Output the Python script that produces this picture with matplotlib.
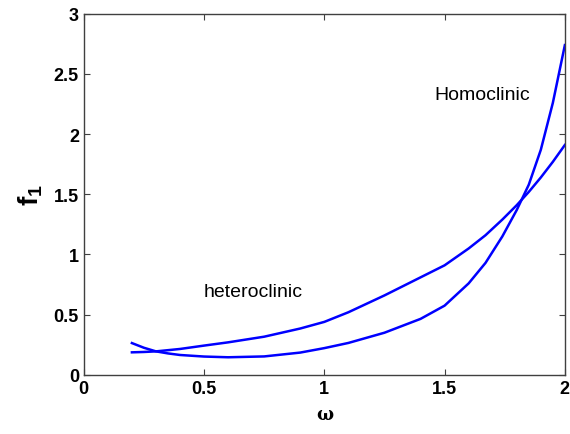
import numpy as np
import matplotlib
matplotlib.use('Agg')
import matplotlib.pyplot as plt

plt.rcParams['font.family'] = ['Liberation Sans', 'DejaVu Sans']
plt.rcParams['mathtext.fontset'] = 'custom'
plt.rcParams['mathtext.rm'] = 'Liberation Sans'
plt.rcParams['mathtext.bf'] = 'Liberation Sans:bold'

# omega values
omega = [0.2, 0.25, 0.3, 0.35, 0.4, 0.5, 0.6, 0.75, 0.9, 1.0, 1.1, 1.25,
         1.4, 1.5, 1.6, 1.67, 1.74, 1.8, 1.85, 1.9, 1.95, 2.0]
# slowly rising branch
f1_a = [0.187, 0.19, 0.195, 0.205, 0.215, 0.243, 0.27, 0.317, 0.385, 0.44,
        0.52, 0.66, 0.81, 0.91, 1.05, 1.16, 1.29, 1.41, 1.52, 1.64, 1.77, 1.91]
# steep branch
f1_b = [0.264, 0.225, 0.195, 0.178, 0.165, 0.152, 0.146, 0.153, 0.185, 0.222,
        0.265, 0.35, 0.465, 0.575, 0.76, 0.93, 1.15, 1.37, 1.58, 1.87, 2.26, 2.74]

fig, ax = plt.subplots(figsize=(5.7, 4.35), dpi=100)
fig.subplots_adjust(left=0.147, right=0.991, bottom=0.136, top=0.966)

ax.plot(omega, f1_a, color='#0000ff', lw=1.8)
ax.plot(omega, f1_b, color='#0000ff', lw=1.8)

ax.text(1.655, 2.33, 'Homoclinic', fontsize=14, ha='center', va='center')
ax.text(0.705, 0.69, 'heteroclinic', fontsize=14, ha='center', va='center')

ax.set_xlim(0, 2)
ax.set_ylim(0, 3)
ax.set_xticks([0, 0.5, 1, 1.5, 2])
ax.set_xticklabels(['0', '0.5', '1', '1.5', '2'])
ax.set_yticks([0, 0.5, 1, 1.5, 2, 2.5, 3])
ax.set_yticklabels(['0', '0.5', '1', '1.5', '2', '2.5', '3'])
ax.tick_params(direction='in', top=True, right=True, length=4, width=0.8,
               labelsize=13, color='#404040')
for lab in ax.get_xticklabels() + ax.get_yticklabels():
    lab.set_fontweight('bold')
for sp in ax.spines.values():
    sp.set_color('#404040')
    sp.set_linewidth(1.0)

ax.set_xlabel('\u03c9', fontsize=13, fontweight='bold', family='DejaVu Serif',
              labelpad=6)
ax.set_ylabel(r'$\mathbf{f_1}$', fontsize=20, labelpad=6)

fig.savefig('out.png', dpi=100)
